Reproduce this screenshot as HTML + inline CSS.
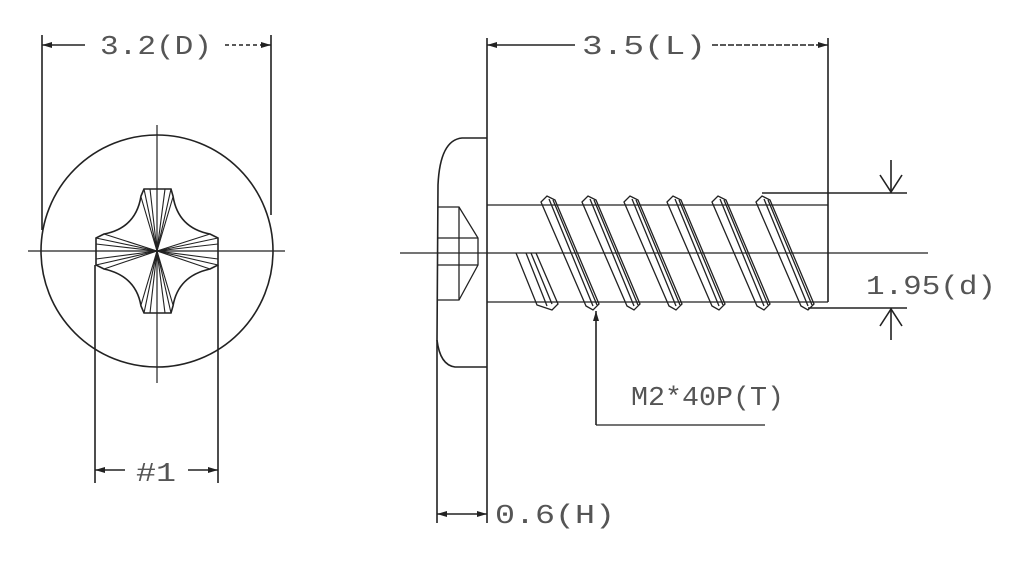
<!DOCTYPE html>
<html><head><meta charset="utf-8"><style>
html,body{margin:0;padding:0;background:#fff;}
svg{display:block;}
text{font-family:"Liberation Mono",monospace;fill:#555;font-size:27px;}
</style></head><body>
<svg width="1024" height="565" viewBox="0 0 1024 565" xmlns="http://www.w3.org/2000/svg">
<defs>
<marker id="a" viewBox="0 0 10 6" refX="10" refY="3" markerWidth="10" markerHeight="6" orient="auto-start-reverse" markerUnits="userSpaceOnUse"><path d="M0,0 L10,3 L0,6 z" fill="#222"/></marker>
</defs>
<g stroke="#222" stroke-width="1.6" fill="none">
<!-- LEFT VIEW -->
<circle cx="157" cy="251" r="116"/>
<line x1="28" y1="251" x2="285" y2="251" stroke-width="1.2"/>
<line x1="157" y1="125" x2="157" y2="383" stroke-width="1.2"/>
<line x1="42" y1="35" x2="42" y2="230"/>
<line x1="271" y1="35" x2="271" y2="215"/>
<line x1="42" y1="45" x2="85" y2="45" marker-start="url(#a)"/>
<line x1="225" y1="45" x2="271" y2="45" stroke-dasharray="4,3" marker-end="url(#a)"/>
<!-- cross recess -->
<path d="M144,189 L171,189 L173,196 Q178,228 210,234 L218,238 L218,265 L210,269 Q178,276 173,306 L171,313 L144,313 L141,306 Q136,276 104,269 L96,265 L96,238 L104,234 Q136,228 141,196 Z"/>
<g stroke-width="1.1">
<line x1="157" y1="251" x2="144" y2="189"/><line x1="157" y1="251" x2="171" y2="189"/>
<line x1="157" y1="251" x2="141" y2="197"/><line x1="157" y1="251" x2="173" y2="197"/>
<line x1="157" y1="251" x2="150" y2="189"/><line x1="157" y1="251" x2="165" y2="189"/>
<line x1="157" y1="251" x2="144" y2="313"/><line x1="157" y1="251" x2="171" y2="313"/>
<line x1="157" y1="251" x2="141" y2="305"/><line x1="157" y1="251" x2="173" y2="305"/>
<line x1="157" y1="251" x2="150" y2="313"/><line x1="157" y1="251" x2="165" y2="313"/>
<line x1="157" y1="251" x2="96" y2="238"/><line x1="157" y1="251" x2="96" y2="265"/>
<line x1="157" y1="251" x2="104" y2="234"/><line x1="157" y1="251" x2="104" y2="269"/>
<line x1="157" y1="251" x2="96" y2="244"/><line x1="157" y1="251" x2="96" y2="259"/>
<line x1="157" y1="251" x2="218" y2="238"/><line x1="157" y1="251" x2="218" y2="265"/>
<line x1="157" y1="251" x2="210" y2="234"/><line x1="157" y1="251" x2="210" y2="269"/>
<line x1="157" y1="251" x2="218" y2="244"/><line x1="157" y1="251" x2="218" y2="259"/>
</g>
<line x1="95" y1="265" x2="95" y2="483"/>
<line x1="218" y1="265" x2="218" y2="483"/>
<line x1="95" y1="470" x2="125" y2="470" marker-start="url(#a)"/>
<line x1="188" y1="470" x2="218" y2="470" marker-end="url(#a)"/>

<!-- RIGHT VIEW -->
<line x1="400" y1="253" x2="928" y2="253" stroke-width="1.2"/>
<line x1="487" y1="38" x2="487" y2="523"/>
<line x1="828" y1="38" x2="828" y2="302"/>
<line x1="487" y1="45" x2="575" y2="45" marker-start="url(#a)"/>
<line x1="712" y1="45" x2="828" y2="45" stroke-dasharray="6,2" marker-end="url(#a)"/>
<!-- head -->
<path d="M487,138 L462,138 Q440,140 438,185 L437,340 Q440,365 455,367 L487,367"/>
<line x1="437" y1="340" x2="437" y2="523"/>
<line x1="437" y1="514" x2="462" y2="514" marker-start="url(#a)"/>
<line x1="462" y1="514" x2="487" y2="514" marker-end="url(#a)"/>
<!-- recess -->
<path d="M438,207 L459,207 L478,238 L478,265 L459,300 L438,300" stroke-width="1.3"/>
<line x1="459" y1="207" x2="459" y2="300" stroke-width="1.3"/>
<line x1="438" y1="238" x2="478" y2="238" stroke-width="1.3"/>
<line x1="438" y1="265" x2="478" y2="265" stroke-width="1.3"/>
<!-- shank -->
<line x1="487" y1="205" x2="828" y2="205" stroke-width="1.3"/>
<line x1="487" y1="302" x2="828" y2="302" stroke-width="1.3"/>
<!-- threads -->
<g stroke-width="1.3">
<path d="M541,202 L547,196 L555,200 L599,304 L593,310 L586,306 Z"/><line x1="549" y1="199" x2="593" y2="306"/><line x1="553" y1="200" x2="597" y2="305"/>
<path d="M582,202 L588,196 L596,200 L640,304 L634,310 L627,306 Z"/><line x1="590" y1="199" x2="634" y2="306"/><line x1="594" y1="200" x2="638" y2="305"/>
<path d="M624,202 L630,196 L638,200 L682,304 L676,310 L669,306 Z"/><line x1="632" y1="199" x2="676" y2="306"/><line x1="636" y1="200" x2="680" y2="305"/>
<path d="M667,202 L673,196 L681,200 L725,304 L719,310 L712,306 Z"/><line x1="675" y1="199" x2="719" y2="306"/><line x1="679" y1="200" x2="723" y2="305"/>
<path d="M712,202 L718,196 L726,200 L770,304 L764,310 L757,306 Z"/><line x1="720" y1="199" x2="764" y2="306"/><line x1="724" y1="200" x2="768" y2="305"/>
<path d="M756,202 L762,196 L770,200 L814,304 L808,310 L801,306 Z"/><line x1="764" y1="199" x2="808" y2="306"/><line x1="768" y1="200" x2="812" y2="305"/>
<!-- partial -->
<path d="M516,253 L537,305 L552,310 L558,304 L536,253"/>
<line x1="526" y1="253" x2="547" y2="306"/><line x1="531" y1="253" x2="552" y2="304"/>
</g>
<!-- d dim -->
<line x1="762" y1="193" x2="907" y2="193"/>
<line x1="808" y1="308" x2="907" y2="308"/>
<line x1="891" y1="160" x2="891" y2="193"/>
<polyline points="880,175 891,192 902,175"/>
<line x1="891" y1="308" x2="891" y2="340"/>
<polyline points="880,326 891,309 902,326"/>
<!-- leader -->
<line x1="596" y1="425" x2="596" y2="311" marker-end="url(#a)"/>
<line x1="596" y1="425" x2="765" y2="425" stroke-width="1.2"/>
</g>
<text x="100" y="54" textLength="112" lengthAdjust="spacingAndGlyphs">3.2(D)</text>
<text x="136" y="481" textLength="40" lengthAdjust="spacingAndGlyphs">#1</text>
<text x="582" y="54" textLength="124" lengthAdjust="spacingAndGlyphs">3.5(L)</text>
<text x="866" y="294" textLength="130" lengthAdjust="spacingAndGlyphs">1.95(d)</text>
<text x="611" y="405" textLength="153" lengthAdjust="spacingAndGlyphs" transform="translate(20,0)">M2*40P(T)</text>
<text x="495" y="523" textLength="120" lengthAdjust="spacingAndGlyphs">0.6(H)</text>
</svg>
</body></html>
